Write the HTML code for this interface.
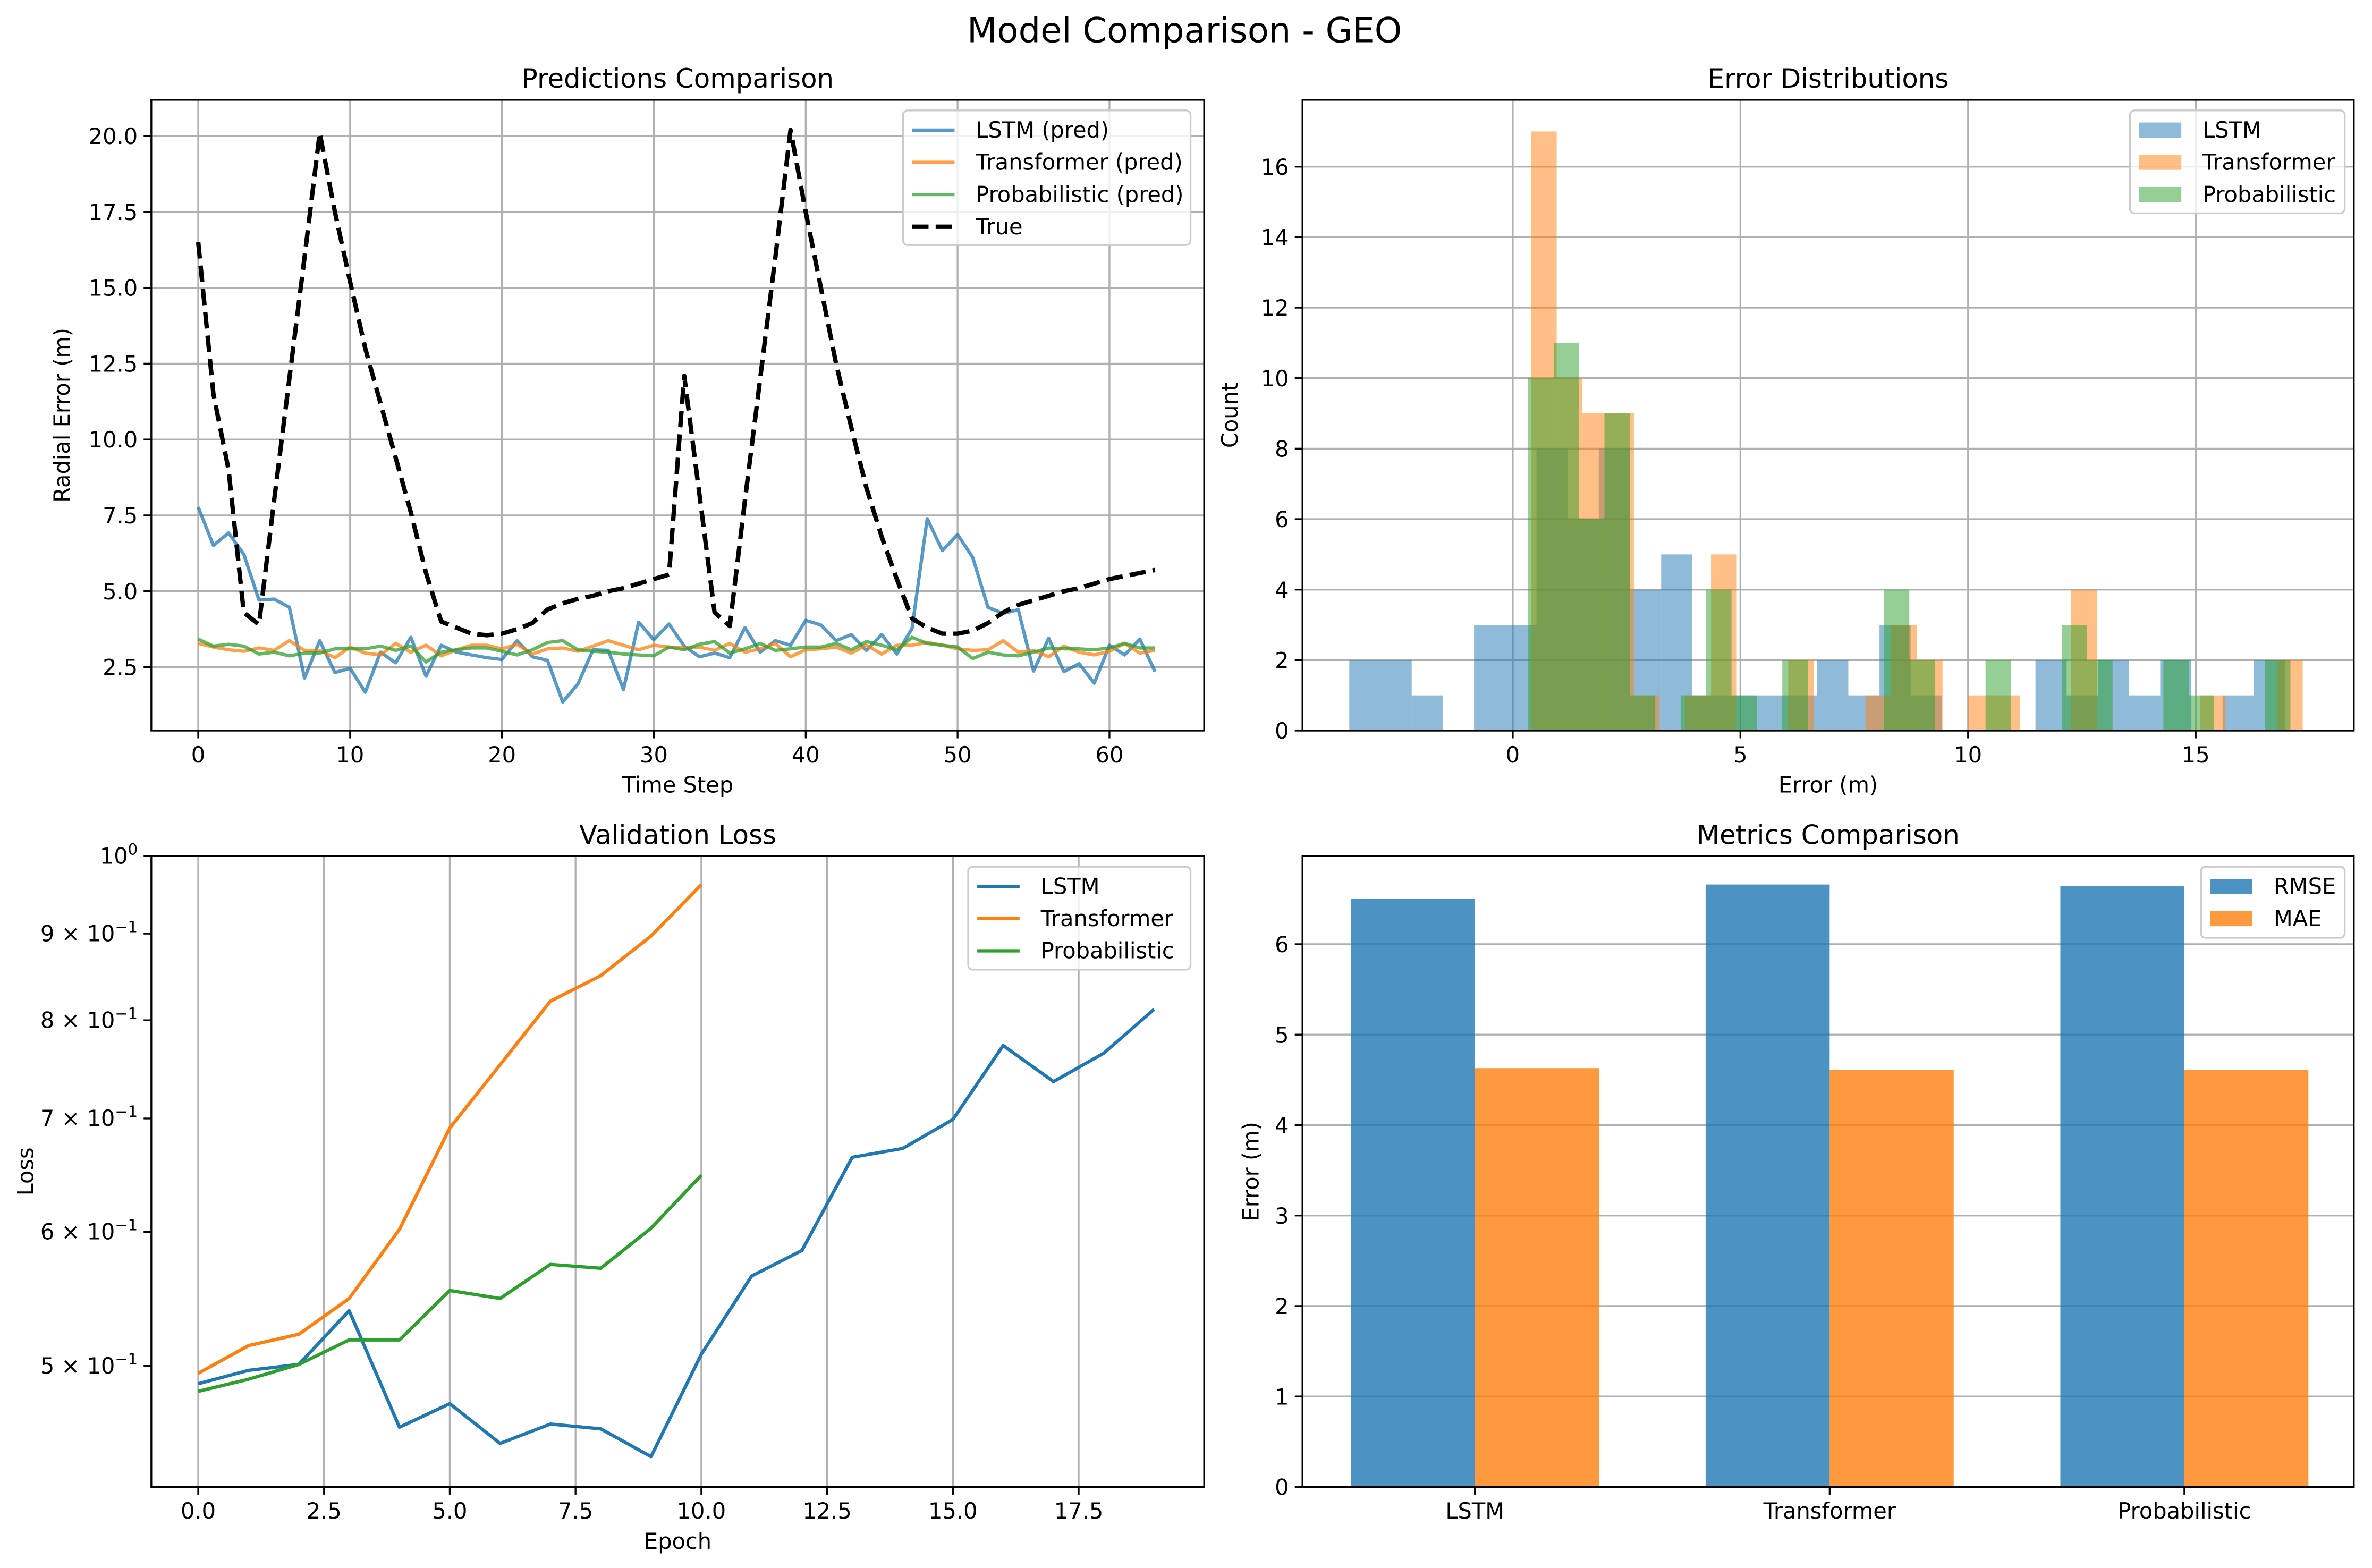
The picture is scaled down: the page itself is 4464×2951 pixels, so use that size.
<!DOCTYPE html>
<html><head><meta charset="utf-8"><style>
html,body{margin:0;padding:0;background:#fff;}
svg{display:block;font-family:"DejaVu Sans","Liberation Sans",sans-serif;}
</style></head><body>
<svg id="fig" xmlns="http://www.w3.org/2000/svg" width="4464" height="2951" viewBox="0 0 1568 1036.6">
<rect x="0" y="0" width="1568" height="1036.6" fill="#fff"/>
<text x="783" y="28" font-size="23" text-anchor="middle">Model Comparison - GEO</text>
</svg>
<script>
// ---- Panel 1 data: predictions ----
const steps = Array.from({length:64},(_,i)=>i);
const trueVals = [16.5,11.5,9.0,4.3,3.9,8.0,12.0,16.0,20.1,17.5,15.2,13.0,11.2,9.4,7.6,5.6,4.0,3.8,3.6,3.55,3.6,3.75,3.95,4.4,4.6,4.75,4.85,5.0,5.1,5.25,5.4,5.55,12.1,8.2,4.3,3.85,8.0,12.0,16.0,20.2,17.5,15.0,12.5,10.4,8.4,6.8,5.4,4.1,3.8,3.6,3.6,3.7,3.95,4.3,4.55,4.7,4.85,5.0,5.1,5.25,5.4,5.5,5.6,5.7];
const lstmPred = [7.77,6.51,6.92,6.22,4.71,4.74,4.47,2.14,3.37,2.32,2.46,1.67,2.99,2.64,3.48,2.20,3.22,2.99,2.90,2.81,2.75,3.37,2.84,2.72,1.35,1.94,3.07,3.05,1.76,3.98,3.40,3.92,3.19,2.84,2.96,2.81,3.80,2.99,3.37,3.22,4.04,3.89,3.37,3.57,3.05,3.57,2.93,3.77,7.39,6.34,6.87,6.11,4.47,4.27,4.39,2.37,3.45,2.35,2.61,1.97,3.22,2.90,3.42,2.35];
const transPred = [3.28,3.16,3.07,3.02,3.13,3.05,3.37,3.05,3.05,2.81,3.16,2.96,2.90,3.28,2.99,3.22,2.87,3.07,3.22,3.22,3.10,3.25,2.93,3.10,3.13,3.02,3.19,3.37,3.22,3.07,3.22,3.16,3.13,3.16,3.05,3.28,2.99,3.10,3.28,2.84,3.07,3.10,3.16,2.96,3.22,2.93,3.22,3.22,3.31,3.22,3.10,3.05,3.07,3.37,2.99,3.05,2.84,3.19,2.99,2.90,3.02,3.28,2.96,3.05];
const probPred = [3.42,3.19,3.25,3.19,2.93,2.99,2.87,2.96,2.96,3.10,3.10,3.10,3.19,3.05,3.19,2.67,2.99,3.07,3.13,3.13,3.02,2.90,3.07,3.31,3.37,3.07,3.02,2.99,2.93,2.90,2.87,3.16,3.07,3.25,3.34,2.96,3.10,3.28,3.05,3.10,3.16,3.16,3.28,3.07,3.34,3.22,3.07,3.48,3.28,3.22,3.16,2.78,2.99,2.90,2.87,2.99,3.13,3.10,3.10,3.07,3.13,3.28,3.13,3.13];
const p1XTicks = [0,10,20,30,40,50,60];
const p1YTicks = [2.5,5.0,7.5,10.0,12.5,15.0,17.5,20.0];
// ---- Panel 2 data: histograms (bin start, bin width, counts) ----
const lstmHistStart = -3.59, lstmHistWidth = 0.685;
const lstmCounts = [2,2,1,0,3,3,8,6,8,4,5,1,1,1,1,2,1,3,1,0,0,0,2,1,2,1,2,0,1,2];
const transHistStart = 0.40, transHistWidth = 0.565;
const transCounts = [17,10,9,9,1,0,1,5,0,0,2,0,0,1,3,2,0,1,1,0,0,4,0,0,0,0,1,0,0,2];
const probHistStart = 0.34, probHistWidth = 0.558;
const probCounts = [10,11,6,9,1,0,1,4,1,0,2,0,0,0,4,2,0,0,2,0,0,3,2,0,0,2,1,0,0,2];
const p2XTicks = [0,5,10,15];
const p2YTicks = [0,2,4,6,8,10,12,14,16];
// ---- Panel 3 data: validation loss ----
const lstmLoss = [0.488,0.497,0.501,0.539,0.460,0.475,0.450,0.462,0.459,0.442,0.508,0.565,0.585,0.664,0.672,0.699,0.773,0.736,0.765,0.812];
const transLoss = [0.495,0.514,0.522,0.548,0.602,0.691,0.753,0.821,0.850,0.897,0.962];
const probLoss = [0.483,0.491,0.501,0.518,0.518,0.554,0.548,0.574,0.571,0.603,0.648];
const p3XTicks = [0,2.5,5,7.5,10,12.5,15,17.5];
const p3XLabels = ["0.0","2.5","5.0","7.5","10.0","12.5","15.0","17.5"];
const p3YTicks = [1.0,0.9,0.8,0.7,0.6,0.5];
const p3YLabels = [["10","0"],["9 × 10","−1"],["8 × 10","−1"],["7 × 10","−1"],["6 × 10","−1"],["5 × 10","−1"]];
// ---- Panel 4 data: metrics ----
const models = ["LSTM","Transformer","Probabilistic"];
const rmseVals = [6.50,6.66,6.64];
const maeVals = [4.63,4.61,4.61];
const p4YTicks = [0,1,2,3,4,5,6];

const NS='http://www.w3.org/2000/svg';
const svg=document.getElementById('fig');
function mk(p,tag,attrs,txt){const e=document.createElementNS(NS,tag);for(const k in attrs)e.setAttribute(k,attrs[k]);if(txt!=null)e.textContent=txt;p.appendChild(e);return e;}
const GRID='#b0b0b0', FS=14.6, LW=2.2, GW=1.17, TL=5.1;
const C1='#1f77b4',C2='#ff7f0e',C3='#2ca02c';
let el;

function panel(name,x0,y0,x1,y1,title){
  const g=mk(svg,'g',{});
  
  
  el=mk(g,'text',{x:(x0+x1)/2,y:y0-8,'font-size':17.5,'text-anchor':'middle'},title);
  
  
  const clip=mk(g,'clipPath',{id:name+'-clip'});
  mk(clip,'rect',{x:x0,y:y0,width:x1-x0,height:y1-y0});
  const grid=mk(g,'g',{});
  
  
  const data=mk(g,'g',{'clip-path':'url(#'+name+'-clip)'});
  
  
  const axes=mk(g,'g',{});
  
  
  return {g,grid,data,axes,x0,y0,x1,y1};
}
function frame(P){
  el=mk(P.axes,'rect',{x:P.x0,y:P.y0,width:P.x1-P.x0,height:P.y1-P.y0,fill:'none',stroke:'#000','stroke-width':GW});
  
  
}
function xtick(P,x,label,grid){
  if(grid){el=mk(P.grid,'line',{x1:x,x2:x,y1:P.y0,y2:P.y1,stroke:GRID,'stroke-width':GW});
  
  }
  el=mk(P.axes,'line',{x1:x,x2:x,y1:P.y1,y2:P.y1+TL,stroke:'#000','stroke-width':GW});
  
  
  el=mk(P.axes,'text',{x:x,y:P.y1+21,'font-size':FS,'text-anchor':'middle'},label);
  
  
}
function ytick(P,y,label,grid){
  if(grid){el=mk(P.grid,'line',{x1:P.x0,x2:P.x1,y1:y,y2:y,stroke:GRID,'stroke-width':GW});
  
  }
  el=mk(P.axes,'line',{x1:P.x0-TL,x2:P.x0,y1:y,y2:y,stroke:'#000','stroke-width':GW});
  
  
  el=mk(P.axes,'text',{x:P.x0-9,y:y+5.3,'font-size':FS,'text-anchor':'end'},label);
  
  
}
function labels(P,xl,yl,yx){
  el=mk(P.axes,'text',{x:(P.x0+P.x1)/2,y:P.y1+41,'font-size':FS,'text-anchor':'middle'},xl);
  
  
  const cy=(P.y0+P.y1)/2;
  el=mk(P.axes,'text',{x:yx,y:cy,'font-size':FS,'text-anchor':'middle',transform:'rotate(-90 '+yx+' '+cy+')'},yl);
  
  
}
function poly(P,xs,ys,sx,sy,color,w,dash,name,op){
  const pts=xs.map((x,i)=>sx(x).toFixed(2)+','+sy(ys[i]).toFixed(2)).join(' ');
  const a={points:pts,fill:'none',stroke:color,'stroke-width':w,'stroke-linejoin':'round'};
  if(dash)a['stroke-dasharray']=dash;
  if(op)a['stroke-opacity']=op;
  el=mk(P.data,'polyline',a);
  
  
}
function legend(P,x,y,w,h,entries){
  const g=mk(P.g,'g',{});
  
  
  el=mk(g,'rect',{x:x,y:y,width:w,height:h,rx:3,fill:'#fff','fill-opacity':0.8,stroke:'#ccc','stroke-width':1.17});
  
  
  entries.forEach((e,i)=>{
    const ry=y+13+i*21.3;
    if(e.patch){el=mk(g,'rect',{x:x+6,y:ry-5,width:28,height:10,fill:e.color,'fill-opacity':e.op||1});}
    else{const a={x1:x+6,x2:x+34,y1:ry,y2:ry,stroke:e.color,'stroke-width':e.w||LW};if(e.dash)a['stroke-dasharray']=e.dash;if(e.op)a['stroke-opacity']=e.op;el=mk(g,'line',a);}
    
    
    el=mk(g,'text',{x:x+48,y:ry+5,'font-size':FS},e.label);
    
    
  });
}

// ===== Panel 1 =====
{
const P=panel('predictions-chart',100,66,796,483,'Predictions Comparison');
const sx=i=>131+i*10.04, sy=v=>441-(v-2.5)*20.06;
p1XTicks.forEach(t=>xtick(P,sx(t),String(t),true));
p1YTicks.forEach(t=>ytick(P,sy(t),t.toFixed(1),true));
poly(P,steps,lstmPred,sx,sy,C1,LW,null,'lstm-pred-line',0.75);
poly(P,steps,transPred,sx,sy,C2,LW,null,'transformer-pred-line',0.75);
poly(P,steps,probPred,sx,sy,C3,LW,null,'probabilistic-pred-line',0.75);
poly(P,steps,trueVals,sx,sy,'#000',2.93,'10.8 4.7','true-line');
frame(P);
labels(P,'Time Step','Radial Error (m)',46);
legend(P,597,73,190,89,[{label:'LSTM (pred)',color:C1,op:0.75},{label:'Transformer (pred)',color:C2,op:0.75},{label:'Probabilistic (pred)',color:C3,op:0.75},{label:'True',color:'#000',w:2.93,dash:'10.8 4.7'}]);
}
// ===== Panel 2 =====
{
const P=panel('error-distribution-chart',861,66,1556,483,'Error Distributions');
const sx=e=>1000+e*30.1, sy=c=>483-c*23.3;
p2XTicks.forEach(t=>xtick(P,sx(t),String(t),true));
p2YTicks.forEach(t=>ytick(P,sy(t),String(t),true));
function hist(start,w,counts,color,name){
  counts.forEach((c,i)=>{
    if(!c)return;
    const xa=sx(start+i*w), xb=sx(start+(i+1)*w);
    el=mk(P.data,'rect',{x:xa,y:sy(c),width:xb-xa,height:sy(0)-sy(c),fill:color,'fill-opacity':0.5});
    
    
  });
}
hist(lstmHistStart,lstmHistWidth,lstmCounts,C1,'lstm-hist-bar');
hist(transHistStart,transHistWidth,transCounts,C2,'transformer-hist-bar');
hist(probHistStart,probHistWidth,probCounts,C3,'probabilistic-hist-bar');
frame(P);
labels(P,'Error (m)','Count',818);
legend(P,1408,73,142,68,[{label:'LSTM',color:C1,patch:1,op:0.5},{label:'Transformer',color:C2,patch:1,op:0.5},{label:'Probabilistic',color:C3,patch:1,op:0.5}]);
}
// ===== Panel 3 =====
{
const P=panel('validation-loss-chart',100,566,796,983,'Validation Loss');
const sx=e=>131+e*33.26, sy=v=>566-Math.log10(v)*1119.5;
p3XTicks.forEach((t,i)=>xtick(P,sx(t),p3XLabels[i],true));
p3YTicks.forEach((t,i)=>{
  const y=sy(t);
  el=mk(P.axes,'line',{x1:P.x0-TL,x2:P.x0,y1:y,y2:y,stroke:'#000','stroke-width':GW});
  
  
  const tx=mk(P.axes,'text',{x:P.x0-9,y:y+5,'font-size':FS,'text-anchor':'end'});
  
  
  mk(tx,'tspan',{},p3YLabels[i][0]);
  mk(tx,'tspan',{dy:-6,'font-size':10.2},p3YLabels[i][1]);
});
poly(P,lstmLoss.map((_,i)=>i),lstmLoss,sx,sy,C1,LW,null,'lstm-loss-line');
poly(P,transLoss.map((_,i)=>i),transLoss,sx,sy,C2,LW,null,'transformer-loss-line');
poly(P,probLoss.map((_,i)=>i),probLoss,sx,sy,C3,LW,null,'probabilistic-loss-line');
frame(P);
labels(P,'Epoch','Loss',22);
legend(P,640,573,147,68,[{label:'LSTM',color:C1},{label:'Transformer',color:C2},{label:'Probabilistic',color:C3}]);
}
// ===== Panel 4 =====
{
const P=panel('metrics-chart',861,566,1556,983,'Metrics Comparison');
const sy=v=>983-v*59.8, cx=i=>975+i*234.5, bw=82;
p4YTicks.forEach(t=>ytick(P,sy(t),String(t),true));
models.forEach((m,i)=>{
  el=mk(P.data,'rect',{x:cx(i)-bw,y:sy(rmseVals[i]),width:bw,height:sy(0)-sy(rmseVals[i]),fill:C1,'fill-opacity':0.8});
  
  
  el=mk(P.data,'rect',{x:cx(i),y:sy(maeVals[i]),width:bw,height:sy(0)-sy(maeVals[i]),fill:C2,'fill-opacity':0.8});
  
  
  xtick(P,cx(i),m,false);
});
frame(P);
labels(P,'','Error (m)',832);
legend(P,1455,573,95,47,[{label:'RMSE',color:C1,patch:1,op:0.8},{label:'MAE',color:C2,patch:1,op:0.8}]);
}
</script>
</body></html>
